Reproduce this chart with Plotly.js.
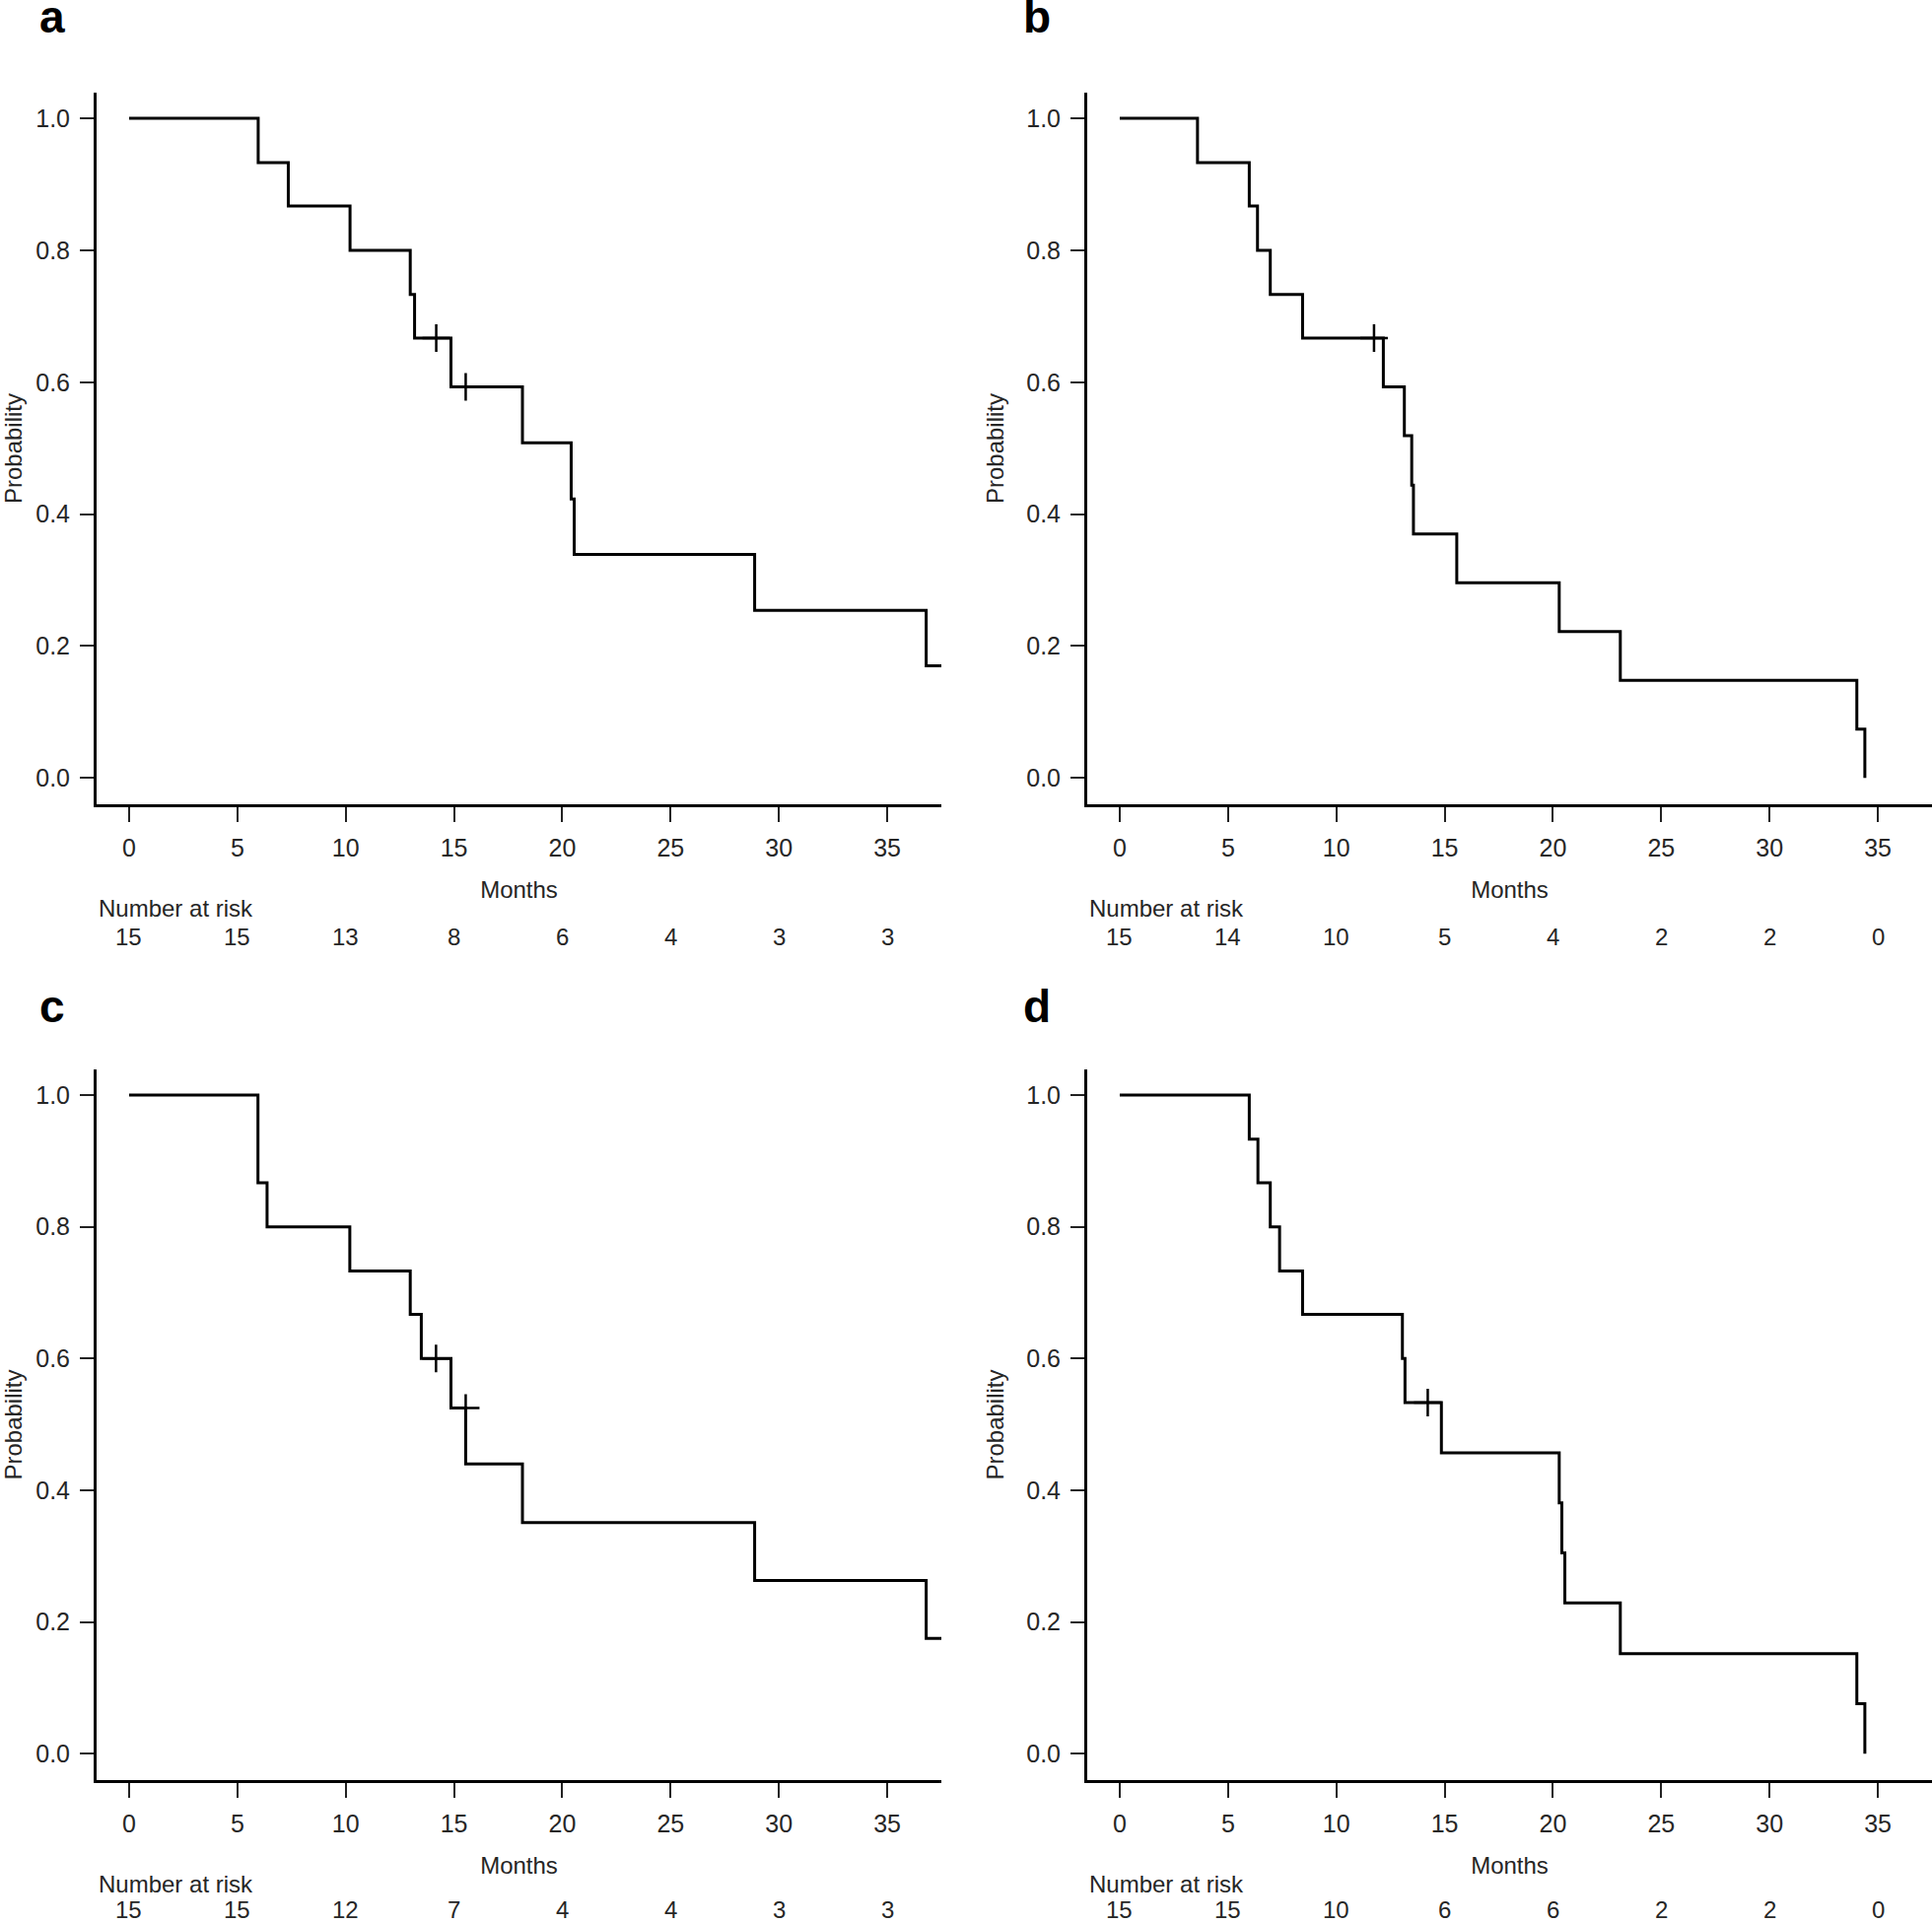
<!DOCTYPE html>
<html>
<head>
<meta charset="utf-8">
<script src="https://cdn.plot.ly/plotly-3.0.1.min.js"></script>
<style>html,body{margin:0;padding:0;background:#fff;}#chart{width:1960px;height:1951px;}</style>
</head>
<body>
<div id="chart"></div>
<script>
// ---------- data ----------
var riskTimes = [0, 5, 10, 15, 20, 25, 30, 35];
var xTicks = [0, 5, 10, 15, 20, 25, 30, 35];
var yTicks = [0.0, 0.2, 0.4, 0.6, 0.8, 1.0];
var yTickText = ["0.0", "0.2", "0.4", "0.6", "0.8", "1.0"];

// Panel a
var aTime = [0, 5.96, 7.35, 10.2, 12.98, 13.18, 14.86, 18.16, 20.41, 20.55, 28.88, 36.8, 37.5];
var aSurv = [1.0, 0.933, 0.867, 0.800, 0.733, 0.667, 0.593, 0.508, 0.423, 0.339, 0.254, 0.170, 0.170];
var aCensTime = [14.18, 15.54];
var aCensSurv = [0.667, 0.593];
var aRisk = [15, 15, 13, 8, 6, 4, 3, 3];

// Panel b
var bTime = [0, 3.59, 5.98, 6.36, 6.95, 8.44, 12.17, 13.14, 13.48, 13.56, 15.56, 20.29, 23.11, 34.03, 34.40];
var bSurv = [1.0, 0.933, 0.867, 0.800, 0.733, 0.667, 0.593, 0.519, 0.444, 0.370, 0.296, 0.222, 0.148, 0.074, 0.0];
var bCensTime = [11.74];
var bCensSurv = [0.667];
var bRisk = [15, 14, 10, 5, 4, 2, 2, 0];

// Panel c
var cTime = [0, 5.95, 6.37, 10.19, 12.98, 13.49, 14.86, 15.54, 18.16, 28.88, 36.8, 37.5];
var cSurv = [1.0, 0.867, 0.800, 0.733, 0.667, 0.600, 0.525, 0.440, 0.351, 0.263, 0.175, 0.175];
var cCensTime = [14.17, 15.54];
var cCensSurv = [0.600, 0.525];
var cRisk = [15, 15, 12, 7, 4, 4, 3, 3];

// Panel d
var dTime = [0, 5.98, 6.38, 6.95, 7.38, 8.44, 13.05, 13.17, 14.85, 20.29, 20.41, 20.55, 23.11, 34.03, 34.40];
var dSurv = [1.0, 0.933, 0.867, 0.800, 0.733, 0.667, 0.600, 0.533, 0.457, 0.381, 0.305, 0.229, 0.152, 0.076, 0.0];
var dCensTime = [14.22];
var dCensSurv = [0.533];
var dRisk = [15, 15, 10, 6, 6, 2, 2, 0];

var panelLabels = ["a", "b", "c", "d"];

// ---------- layout geometry ----------
var W = 1960, H = 1951;
var FONT = "Liberation Sans, Arial, Helvetica, sans-serif";
var TXT = "#262626";
function px2x(p) { return p / W; }
function px2y(p) { return 1 - p / H; }

var panels = [
  {id: "", time: aTime, surv: aSurv, ct: aCensTime, cs: aCensSurv, risk: aRisk, label: panelLabels[0],
   left: 98, right: 955, top: 94, bottom: 816, labelX: 38, labelY: 17, riskOff: 134},
  {id: "2", time: bTime, surv: bSurv, ct: bCensTime, cs: bCensSurv, risk: bRisk, label: panelLabels[1],
   left: 1103, right: 1960, top: 94, bottom: 816, labelX: 1036, labelY: 17, riskOff: 134},
  {id: "3", time: cTime, surv: cSurv, ct: cCensTime, cs: cCensSurv, risk: cRisk, label: panelLabels[2],
   left: 98, right: 955, top: 1085, bottom: 1806, labelX: 38, labelY: 1021, riskOff: 131},
  {id: "4", time: dTime, surv: dSurv, ct: dCensTime, cs: dCensSurv, risk: dRisk, label: panelLabels[3],
   left: 1103, right: 1960, top: 1085, bottom: 1806, labelX: 1036, labelY: 1021, riskOff: 131}
];

var data = [];
var layout = {
  width: W, height: H,
  margin: {l: 0, r: 0, t: 0, b: 0, pad: 0},
  paper_bgcolor: "#fff", plot_bgcolor: "#fff",
  showlegend: false,
  font: {family: FONT, size: 24, color: TXT},
  annotations: []
};

panels.forEach(function (p) {
  var xa = "x" + p.id, ya = "y" + p.id;
  data.push({
    type: "scatter", mode: "lines", x: p.time, y: p.surv,
    xaxis: xa, yaxis: ya,
    line: {shape: "hv", color: "#000", width: 3},
    hoverinfo: "skip"
  });
  data.push({
    type: "scatter", mode: "markers", x: p.ct, y: p.cs,
    xaxis: xa, yaxis: ya,
    marker: {symbol: "cross-thin", size: 20, color: "#000", line: {color: "#000", width: 2.5}},
    hoverinfo: "skip"
  });

  layout["xaxis" + p.id] = {
    domain: [px2x(p.left), px2x(p.right)],
    anchor: ya,
    range: [-1.5, 37.5],
    tickvals: xTicks,
    ticktext: xTicks.map(String),
    showgrid: false, zeroline: false,
    showline: true, linecolor: "#000", linewidth: 3,
    ticks: "outside", ticklen: 15, tickwidth: 2, tickcolor: "#222",
    ticklabelstandoff: 5,
    tickfont: {family: FONT, size: 25, color: TXT},
    title: {text: "Months", font: {family: FONT, size: 24, color: TXT}, standoff: 22},
    fixedrange: true
  };
  layout["yaxis" + p.id] = {
    domain: [px2y(p.bottom), px2y(p.top)],
    anchor: xa,
    range: [-0.04, 1.039],
    tickvals: yTicks,
    ticktext: yTickText,
    showgrid: false, zeroline: false,
    showline: true, linecolor: "#000", linewidth: 3,
    ticks: "outside", ticklen: 14, tickwidth: 2, tickcolor: "#222",
    ticklabelstandoff: 5,
    tickfont: {family: FONT, size: 25, color: TXT},
    title: {text: "Probability", font: {family: FONT, size: 24, color: TXT}, standoff: 16},
    fixedrange: true
  };

  // panel letter
  layout.annotations.push({
    xref: "paper", yref: "paper", x: px2x(p.labelX), y: px2y(p.labelY),
    xanchor: "left", yanchor: "middle", showarrow: false,
    text: "<b>" + p.label + "</b>",
    font: {family: FONT, size: 46, color: "#000"}
  });
  // number at risk header
  layout.annotations.push({
    xref: "paper", yref: "paper", x: px2x(p.left), y: px2y(p.bottom + 105),
    xanchor: "left", yanchor: "middle", showarrow: false,
    text: "Number at risk",
    font: {family: FONT, size: 24, color: TXT}
  });
  // numbers at risk
  riskTimes.forEach(function (t, i) {
    layout.annotations.push({
      xref: xa, yref: "paper", x: t, y: px2y(p.bottom + p.riskOff),
      xanchor: "center", yanchor: "middle", showarrow: false,
      text: String(p.risk[i]),
      font: {family: FONT, size: 24, color: TXT}
    });
  });
});

Plotly.newPlot("chart", data, layout, {displayModeBar: false, staticPlot: true});
</script>
</body>
</html>
